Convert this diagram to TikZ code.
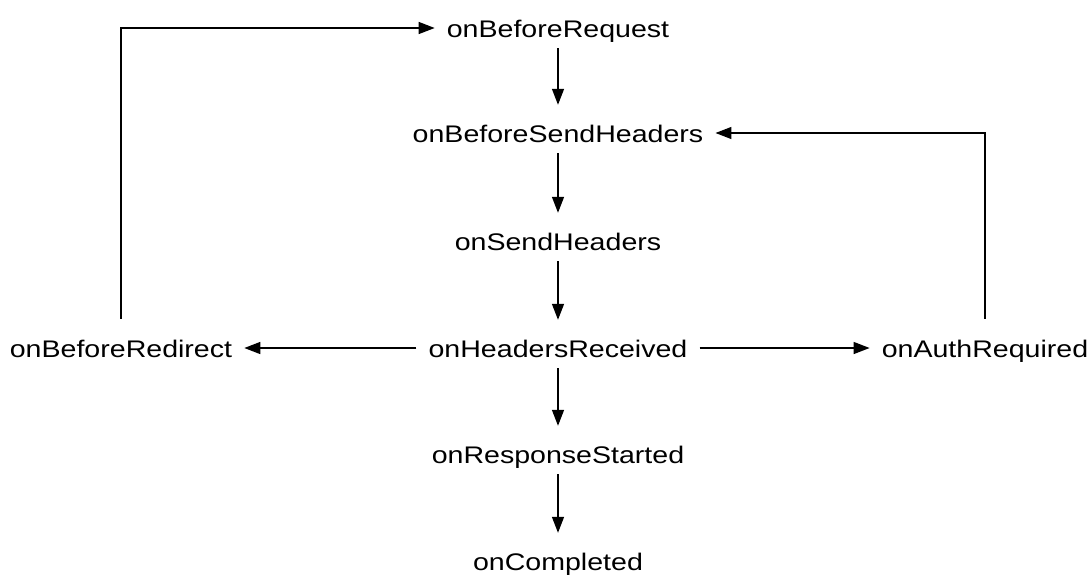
\documentclass[tikz,border=0pt]{standalone}
\usepackage{fontspec}
\setmainfont[FakeStretch=1.19]{Liberation Sans}
\usetikzlibrary{arrows.meta}

\begin{document}
\begin{tikzpicture}[x=1pt, y=-1pt]
\tikzstyle{event} = [inner sep=0pt, text height=18pt, text depth=0pt, font=\fontsize{24}{28}\selectfont]
\tikzstyle{flow} = [draw=black, line width=1.4pt, -{Triangle[length=16pt,width=12pt]}]
\tikzstyle{down} = [flow, shorten <=11pt, shorten >=19pt]
\tikzstyle{side} = [flow, shorten <=12pt, shorten >=12pt]

\useasboundingbox (0,0) rectangle (1089,574);

\node[event] (request) at (558,28) {onBeforeRequest};
\node[event] (sendhdr) at (558,133) {onBeforeSendHeaders};
\node[event] (send) at (558,241) {onSendHeaders};
\node[event] (received) at (558,348) {onHeadersReceived};
\node[event] (redirect) at (121,348) {onBeforeRedirect};
\node[event] (auth) at (985,348) {onAuthRequired};
\node[event] (response) at (558,454) {onResponseStarted};
\node[event] (completed) at (558,561) {onCompleted};

\draw[down] (request) -- (sendhdr);
\draw[down] (sendhdr) -- (send);
\draw[down] (send) -- (received);
\draw[down] (received) -- (response);
\draw[down] (response) -- (completed);
\draw[side] (received) -- (redirect);
\draw[side] (received) -- (auth);
\draw[flow, shorten >=12pt] ([yshift=20pt]redirect.north) |- (request);
\draw[flow, shorten >=12pt] ([yshift=20pt]auth.north) |- (sendhdr);
\end{tikzpicture}
\end{document}
